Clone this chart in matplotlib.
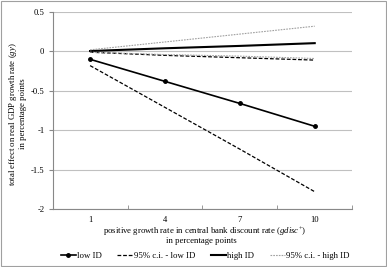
import matplotlib.pyplot as plt
from matplotlib.patches import Rectangle

plt.rcParams['font.family'] = ['Liberation Serif', 'DejaVu Serif']
plt.rcParams['mathtext.fontset'] = 'custom'
plt.rcParams['mathtext.rm'] = 'Liberation Serif'
plt.rcParams['mathtext.it'] = 'Liberation Serif:italic'

# data
categories = ['1', '4', '7', '10']
low_id = [-0.10, -0.38, -0.66, -0.95]
low_ci_lower = [-0.18, -0.71, -1.24, -1.78]
low_ci_upper = [-0.01, -0.05, -0.08, -0.11]
high_id = [0.005, 0.04, 0.07, 0.105]
high_ci_upper = [0.02, 0.12, 0.22, 0.32]
high_ci_lower = [-0.01, -0.04, -0.06, -0.09]

W, H = 387, 267
fig = plt.figure(figsize=(W / 100, H / 100), dpi=100)
ax = fig.add_axes([0.136, 0.217, 0.774, 0.738])

x = range(len(categories))
ax.plot(x, low_id, color='black', lw=1.2, marker='o', ms=2.5, label='low ID')
ax.plot(x, low_ci_lower, color='black', lw=0.9, ls=(0, (3, 1.5)), label='95% c.i. - low ID')
ax.plot(x, low_ci_upper, color='black', lw=0.9, ls=(0, (3, 1.5)))
ax.plot(x, high_id, color='black', lw=1.5, label='high ID')
ax.plot(x, high_ci_upper, color='#a0a0a0', lw=0.8, ls=(0, (1.5, 1)), label='95% c.i. - high ID')
ax.plot(x, high_ci_lower, color='#a0a0a0', lw=0.8, ls=(0, (1.5, 1)))

ax.set_xlim(-0.5, 3.5)
ax.set_ylim(-2, 0.5)
ax.set_yticks([-2, -1.5, -1, -0.5, 0, 0.5])
ax.set_yticklabels(['-2', '-1.5', '-1', '-0.5', '0', '0.5'])
ax.set_xticks(list(x))
ax.set_xticklabels(categories)
ax.set_xticks([-0.5, 0.5, 1.5, 2.5, 3.5], minor=True)
ax.tick_params(axis='x', which='major', length=0, labelsize=6.2, pad=5)
ax.tick_params(axis='x', which='minor', length=3, color='#888888', direction='in')
ax.tick_params(axis='y', length=3, color='#888888', labelsize=6.2, pad=3)

ax.grid(axis='y', color='#c0c0c0', lw=0.8)
ax.set_axisbelow(True)
for s in ['top', 'right']:
    ax.spines[s].set_visible(False)
ax.spines['left'].set_color('#888888')
ax.spines['bottom'].set_color('#888888')
ax.spines['left'].set_linewidth(0.8)
ax.spines['bottom'].set_linewidth(0.8)

# axis titles, one line at a time
fs = 6.3
fig.text(13 / W, 1 - 114 / H, 'total effect on real GDP growth rate ($\\it{gy}$)',
         rotation=90, ha='center', va='center', fontsize=fs)
fig.text(23 / W, 1 - 114 / H, 'in percentage points',
         rotation=90, ha='center', va='center', fontsize=fs)
fig.text(205 / W, 1 - 231.5 / H, 'positive growth rate in central bank discount rate ($\\it{gdisc}^{+}$)',
         ha='center', va='center', fontsize=fs)
fig.text(201 / W, 1 - 241 / H, 'in percentage points',
         ha='center', va='center', fontsize=fs)

fig.legend(loc='center', bbox_to_anchor=(205 / W, 1 - 256 / H), ncol=4, frameon=False,
           fontsize=fs, handlelength=1.7, handletextpad=0.15, columnspacing=1.8)

fig.patches.append(Rectangle((0.002, 0.003), 0.995, 0.994, transform=fig.transFigure,
                             fill=False, edgecolor='#a0a0a0', lw=0.8))

fig.savefig('out.png', dpi=100)
